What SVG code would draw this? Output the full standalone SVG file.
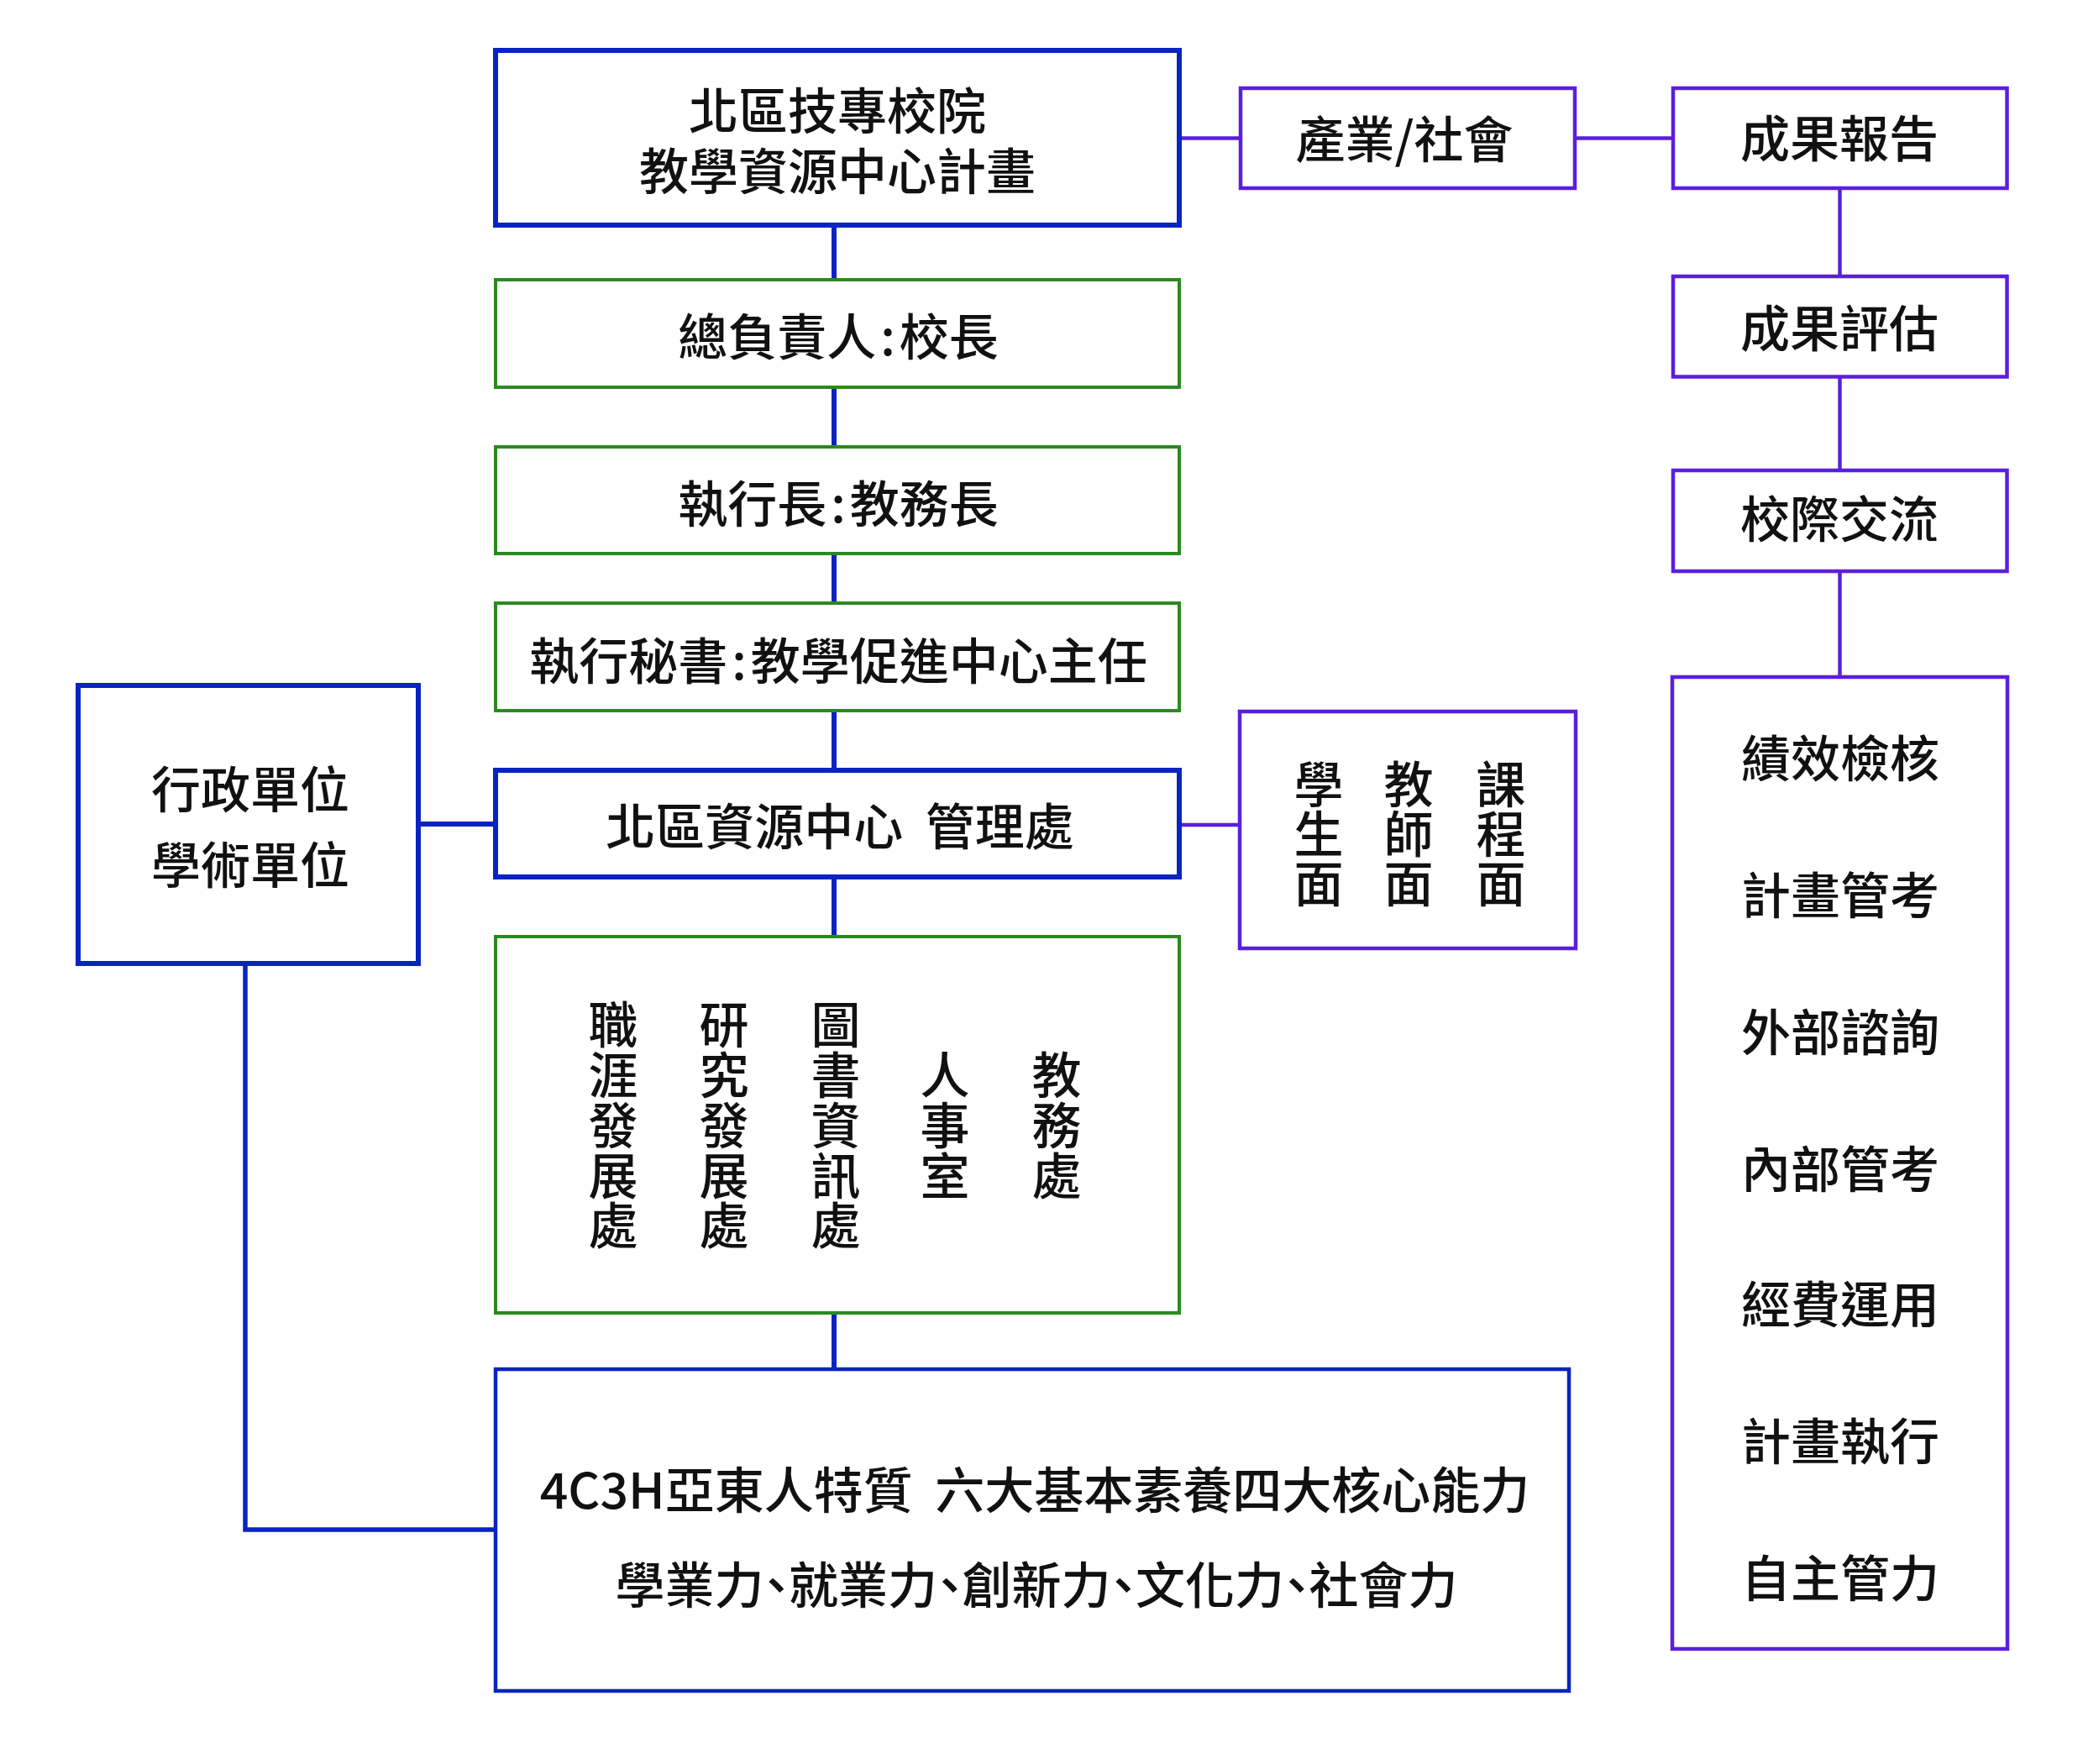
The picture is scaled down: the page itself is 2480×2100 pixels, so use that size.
<svg xmlns="http://www.w3.org/2000/svg" width="2480" height="2100" viewBox="0 0 2480 2100">
<style>
text{font-family:"Noto Sans CJK TC","Noto Sans CJK SC",sans-serif;font-size:59px;font-weight:500;fill:#111;text-anchor:middle;dominant-baseline:central}
.box{fill:#fff}
.blue{stroke:#0a24c0;stroke-width:6}
.green{stroke:#2a8a20;stroke-width:4}
.purple{stroke:#5b1fdc;stroke-width:4.5}
.cb{stroke:#0a24c0;stroke-width:6;fill:none}
.cp{stroke:#5b1fdc;stroke-width:4.5;fill:none}
.pre{white-space:pre}
</style>
<rect width="2480" height="2100" fill="#fff"/>
<g id="connectors">
<line class="cb" x1="993" y1="268" x2="993" y2="1630"/>
<line class="cb" x1="498" y1="981" x2="590" y2="981"/>
<polyline class="cb" style="stroke-width:5.5" points="292,1147 292,1821 590,1821"/>
<line class="cp" x1="1404" y1="164.5" x2="1477" y2="164.5"/>
<line class="cp" x1="1875" y1="164.5" x2="1992" y2="164.5"/>
<line class="cp" x1="2190.5" y1="224" x2="2190.5" y2="806"/>
<line class="cp" x1="1404" y1="982" x2="1476" y2="982"/>
</g>
<g id="plan">
<rect class="box blue" x="590" y="60" width="814" height="208"/>
<text x="997" y="128">北區技專校院</text>
<text x="997" y="200">教學資源中心計畫</text>
</g>
<g id="president">
<rect class="box green" x="590" y="333" width="814" height="128"/>
<text x="998" y="397">總負責人<tspan dx="5">:</tspan><tspan dx="5">校長</tspan></text>
</g>
<g id="ceo">
<rect class="box green" x="590" y="532" width="814" height="127"/>
<text x="998" y="596">執行長<tspan dx="5">:</tspan><tspan dx="5">教務長</tspan></text>
</g>
<g id="secretary">
<rect class="box green" x="590" y="718" width="814" height="128"/>
<text x="998" y="783">執行秘書<tspan dx="5">:</tspan><tspan dx="5">教學促進中心主任</tspan></text>
</g>
<g id="mgmt">
<rect class="box blue" x="590" y="917" width="814" height="127"/>
<text class="pre" x="1000" y="980">北區資源中心  管理處</text>
</g>
<g id="units">
<rect class="box blue" x="93" y="816" width="405" height="331"/>
<text x="298" y="936">行政單位</text>
<text x="298" y="1026">學術單位</text>
</g>
<g id="offices">
<rect class="box green" x="590" y="1115" width="814" height="448"/>
<text><tspan x="730" y="1216">職</tspan><tspan x="730" y="1276">涯</tspan><tspan x="730" y="1336">發</tspan><tspan x="730" y="1396">展</tspan><tspan x="730" y="1455">處</tspan></text>
<text><tspan x="862" y="1216">研</tspan><tspan x="862" y="1276">究</tspan><tspan x="862" y="1336">發</tspan><tspan x="862" y="1396">展</tspan><tspan x="862" y="1455">處</tspan></text>
<text><tspan x="995" y="1216">圖</tspan><tspan x="995" y="1276">書</tspan><tspan x="995" y="1336">資</tspan><tspan x="995" y="1396">訊</tspan><tspan x="995" y="1455">處</tspan></text>
<text><tspan x="1125" y="1276">人</tspan><tspan x="1125" y="1336">事</tspan><tspan x="1125" y="1396">室</tspan></text>
<text><tspan x="1258" y="1276">教</tspan><tspan x="1258" y="1336">務</tspan><tspan x="1258" y="1396">處</tspan></text>
</g>
<g id="competence">
<rect class="box blue" style="stroke-width:4.5" x="590" y="1630" width="1278" height="383"/>
<text class="pre" x="1232" y="1770">4C3H亞東人特質  六大基本素養四大核心能力</text>
<text x="1234" y="1883" style="font-feature-settings:'palt'">學業力、就業力、創新力、文化力、社會力</text>
</g>
<g id="industry">
<rect class="box purple" x="1477" y="105" width="398" height="119"/>
<text x="1672" y="162">產業/社會</text>
</g>
<g id="aspects">
<rect class="box purple" x="1476" y="847" width="400" height="282"/>
<text><tspan x="1570" y="930">學</tspan><tspan x="1570" y="989">生</tspan><tspan x="1570" y="1048">面</tspan></text>
<text><tspan x="1677" y="930">教</tspan><tspan x="1677" y="989">師</tspan><tspan x="1677" y="1048">面</tspan></text>
<text><tspan x="1787" y="930">課</tspan><tspan x="1787" y="989">程</tspan><tspan x="1787" y="1048">面</tspan></text>
</g>
<g id="report">
<rect class="box purple" x="1992" y="105" width="397.5" height="119"/>
<text x="2190" y="161">成果報告</text>
</g>
<g id="evaluation">
<rect class="box purple" x="1992" y="329" width="397.5" height="119.5"/>
<text x="2190" y="387">成果評估</text>
</g>
<g id="exchange">
<rect class="box purple" x="1992" y="560" width="397.5" height="120"/>
<text x="2190" y="614">校際交流</text>
</g>
<g id="checks">
<rect class="box purple" x="1991" y="806" width="399" height="1157"/>
<text x="2191" y="899">績效檢核</text>
<text x="2191" y="1062">計畫管考</text>
<text x="2191" y="1225">外部諮詢</text>
<text x="2191" y="1388">內部管考</text>
<text x="2191" y="1549">經費運用</text>
<text x="2191" y="1712">計畫執行</text>
<text x="2191" y="1875">自主管力</text>
</g>
</svg>
